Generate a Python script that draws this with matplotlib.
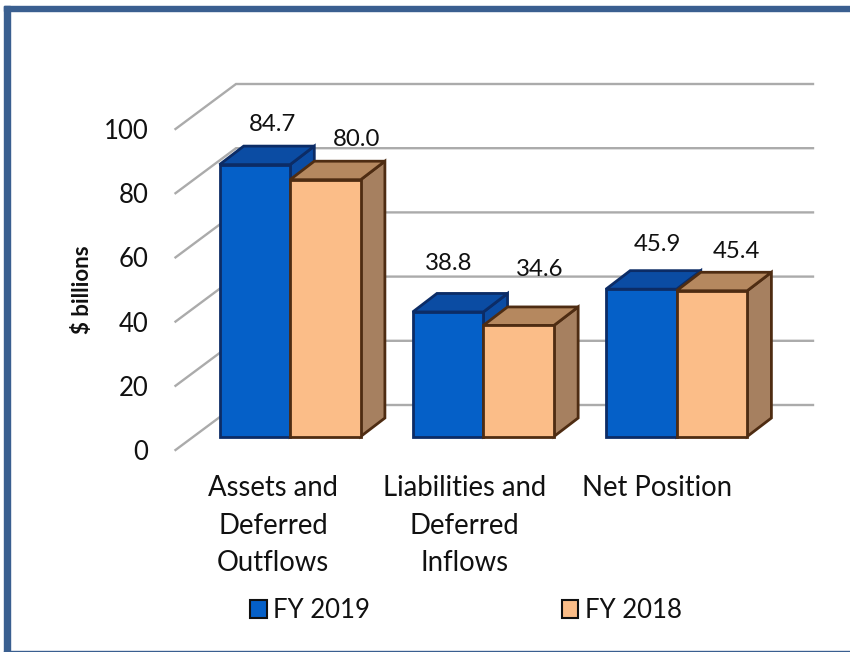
import matplotlib
matplotlib.use('Agg')
import matplotlib.pyplot as plt
from matplotlib.patches import Polygon, Patch, Rectangle

plt.rcParams['font.family'] = ['Lato', 'DejaVu Sans']

categories = ['Assets and\nDeferred\nOutflows', 'Liabilities and\nDeferred\nInflows', 'Net Position']
fy2019 = [84.7, 38.8, 45.9]
fy2018 = [80.0, 34.6, 45.4]
series_names = ['FY 2019', 'FY 2018']
y_ticks = [0, 20, 40, 60, 80, 100]

# colours: front, top, side, edge
blue = ['#0560C8', '#0B4CA3', '#0B4CA3', '#0C2C66']
tan = ['#FBBD88', '#B5885F', '#A68060', '#4E2C12']
frame_color = '#3A5F90'
grid_color = '#ABABAB'

# layout, in pixels of the 850x652 picture
W, H = 850, 652
GROUP_STEP = 193.25
X0 = 219.5       # left edge of first bar
Y0 = 436.5       # bottom of the bars
PX_PER_UNIT = 3.21
BAR_W = 70.6
DEPTH_X, DEPTH_Y = 24.2, 18.5


def xu(px):
    return px / GROUP_STEP


def yu(px):
    return px / PX_PER_UNIT


fig = plt.figure(figsize=(W / 100, H / 100), dpi=100)
ax = fig.add_axes([0, 0, 1, 1])
# x is in category units, y is in $ billions
ax.set_xlim(-X0 / GROUP_STEP, (W - X0) / GROUP_STEP)
ax.set_ylim((Y0 - H) / PX_PER_UNIT, Y0 / PX_PER_UNIT)
ax.axis('off')

# frame round the picture
to_fig = fig.transFigure
fig.patches.append(Rectangle((4 / W, 0), 6 / W, 1 - 6 / H, transform=to_fig, color=frame_color))
fig.patches.append(Rectangle((4 / W, 1 - 11 / H), 1, 5 / H, transform=to_fig, color=frame_color))
fig.patches.append(Rectangle((4 / W, 0), 1, 1.5 / H, transform=to_fig, color=frame_color))

# wall and side grid lines
floor_front = yu(-13.5)
floor_back = yu(31.5)
left_front = xu(175.5 - X0)
left_back = xu(236 - X0)
right_back = xu(813 - X0)
for v in y_ticks:
    ax.plot([left_front, left_back, right_back], [v + floor_front, v + floor_back, v + floor_back],
            color=grid_color, lw=1.7, solid_joinstyle='miter', zorder=1)
    ax.text(left_front - xu(27), v + floor_front - yu(2.5), str(v), ha='right', va='center',
            fontsize=18.5, color='#111111')


def draw_bar(x, val, cols):
    w = xu(BAR_W)
    dx = xu(DEPTH_X)
    dy = yu(DEPTH_Y)
    front = [(x, 0), (x + w, 0), (x + w, val), (x, val)]
    top = [(x, val), (x + w, val), (x + w + dx, val + dy), (x + dx, val + dy)]
    side = [(x + w, 0), (x + w + dx, dy), (x + w + dx, val + dy), (x + w, val)]
    for pts, c in [(side, cols[2]), (top, cols[1]), (front, cols[0])]:
        ax.add_patch(Polygon(pts, closed=True, facecolor=c, edgecolor=cols[3], lw=2,
                             joinstyle='miter', zorder=3))


w = xu(BAR_W)
for i in range(len(categories)):
    draw_bar(i, fy2019[i], blue)
    draw_bar(i + w, fy2018[i], tan)

# data labels sit at hand placed spots above the bars
label_dx = [[18, 31], [1, 21], [16, 25]]
label_dy = [[40, 40], [48, 56], [45, 39]]
for i in range(len(categories)):
    for j, vals in enumerate([fy2019, fy2018]):
        x = i + j * w + xu(BAR_W / 2 + label_dx[i][j])
        ax.text(x, vals[i] + yu(label_dy[i][j]), f'{vals[i]:.1f}', ha='center', va='center',
                fontsize=17.3, color='#111111')

# category labels
name_dx = [-17, -18.5, -20]
for i, name in enumerate(categories):
    ax.text(i + w + xu(name_dx[i]), yu(Y0 - 475), name, ha='center', va='top', fontsize=19.8,
            linespacing=1.55, color='#111111')

ax.text(xu(82.5 - X0), yu(Y0 - 290), '$ billions', rotation=90, ha='center', va='center',
        fontsize=16, fontweight='bold', color='#111111')

handles = [Patch(facecolor=blue[0], edgecolor='#111111', lw=1.5),
           Patch(facecolor=tan[0], edgecolor='#111111', lw=1.5)]
ax.legend(handles, series_names, ncols=2, loc='center', bbox_to_anchor=(466 / W, 1 - 610 / H),
          bbox_transform=to_fig, frameon=False, fontsize=18.5, handlelength=0.65, handleheight=0.7,
          handletextpad=0.25, columnspacing=7.45, borderpad=0, labelcolor='#111111')

fig.savefig('out.png', dpi=100)
